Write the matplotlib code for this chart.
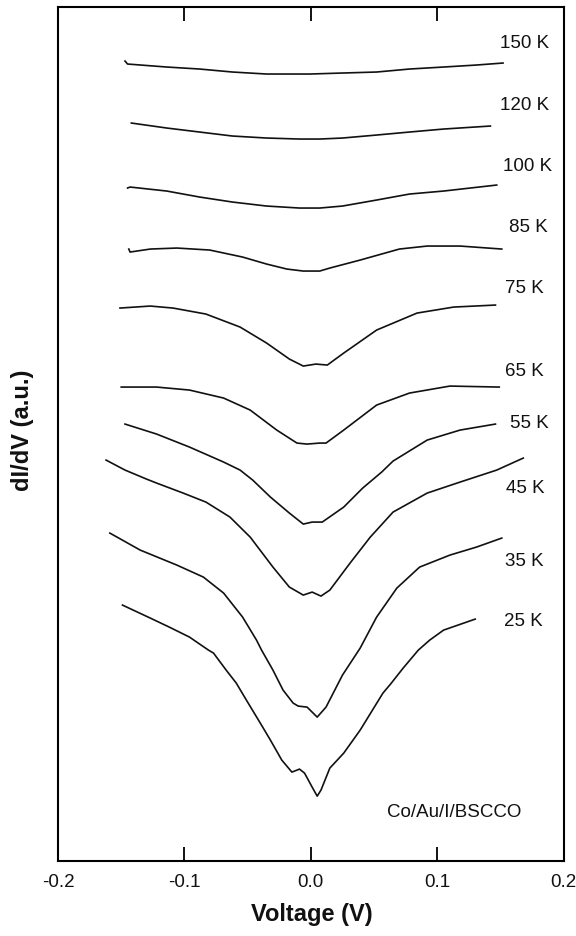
import matplotlib.pyplot as plt

plt.rcParams['font.family'] = ['Liberation Sans', 'DejaVu Sans']

# temperatures of the spectra (top to bottom)
temps = ['150 K', '120 K', '100 K', '85 K', '75 K', '65 K', '55 K', '45 K', '35 K', '25 K']

# bias voltage (V) and shifted dI/dV (a.u.)
v_150 = [-0.147, -0.145, -0.114, -0.088, -0.062, -0.035, -0.017, -0.001, 0.025, 0.052, 0.078, 0.105, 0.131, 0.152]
g_150 = [8.00, 7.97, 7.94, 7.92, 7.89, 7.87, 7.87, 7.87, 7.88, 7.89, 7.92, 7.94, 7.96, 7.98]

v_120 = [-0.142, -0.114, -0.088, -0.062, -0.035, -0.009, 0.007, 0.025, 0.052, 0.078, 0.105, 0.142]
g_120 = [7.38, 7.33, 7.29, 7.25, 7.23, 7.22, 7.22, 7.23, 7.26, 7.29, 7.32, 7.35]

v_100 = [-0.145, -0.143, -0.114, -0.088, -0.062, -0.035, -0.009, 0.007, 0.025, 0.052, 0.078, 0.105, 0.147]
g_100 = [6.73, 6.74, 6.70, 6.64, 6.59, 6.55, 6.53, 6.53, 6.55, 6.61, 6.67, 6.70, 6.76]

v_85 = [-0.144, -0.143, -0.127, -0.106, -0.080, -0.054, -0.035, -0.019, -0.006, 0.007, 0.015, 0.039, 0.070,
        0.092, 0.118, 0.151]
g_85 = [6.12, 6.09, 6.12, 6.13, 6.11, 6.04, 5.97, 5.92, 5.90, 5.90, 5.93, 6.01, 6.12, 6.15, 6.15, 6.12]

v_75 = [-0.151, -0.127, -0.109, -0.083, -0.056, -0.035, -0.017, -0.006, 0.004, 0.013, 0.026, 0.052, 0.084,
        0.113, 0.146]
g_75 = [5.53, 5.55, 5.53, 5.47, 5.34, 5.18, 5.02, 4.95, 4.97, 4.96, 5.08, 5.31, 5.48, 5.54, 5.56]

v_65 = [-0.150, -0.122, -0.096, -0.069, -0.048, -0.027, -0.011, -0.003, 0.007, 0.012, 0.026, 0.052, 0.078,
        0.110, 0.149]
g_65 = [4.74, 4.74, 4.71, 4.63, 4.51, 4.31, 4.18, 4.17, 4.18, 4.18, 4.31, 4.56, 4.68, 4.75, 4.74]

v_55 = [-0.147, -0.122, -0.096, -0.069, -0.056, -0.046, -0.032, -0.017, -0.006, 0.001, 0.009, 0.026, 0.041,
        0.056, 0.065, 0.092, 0.118, 0.146]
g_55 = [4.37, 4.27, 4.14, 3.99, 3.91, 3.81, 3.64, 3.48, 3.37, 3.39, 3.39, 3.54, 3.73, 3.89, 4.00,
        4.21, 4.31, 4.37]

v_45 = [-0.162, -0.147, -0.130, -0.122, -0.101, -0.083, -0.064, -0.048, -0.030, -0.017, -0.006, 0.001, 0.008,
        0.015, 0.031, 0.047, 0.065, 0.092, 0.118, 0.147, 0.168]
g_45 = [4.01, 3.91, 3.82, 3.78, 3.68, 3.59, 3.44, 3.24, 2.94, 2.74, 2.66, 2.69, 2.65, 2.71, 2.98, 3.24,
        3.49, 3.68, 3.79, 3.91, 4.03]

v_35 = [-0.159, -0.135, -0.106, -0.085, -0.069, -0.054, -0.043, -0.039, -0.030, -0.022, -0.014, -0.010,
        -0.003, 0.005, 0.012, 0.025, 0.039, 0.052, 0.068, 0.086, 0.110, 0.131, 0.151]
g_35 = [3.28, 3.11, 2.96, 2.84, 2.68, 2.44, 2.21, 2.11, 1.91, 1.71, 1.58, 1.55, 1.54, 1.44, 1.54, 1.86,
        2.13, 2.44, 2.73, 2.94, 3.06, 3.14, 3.23]

v_25 = [-0.149, -0.127, -0.112, -0.096, -0.081, -0.077, -0.067, -0.059, -0.051, -0.040, -0.032, -0.023,
        -0.015, -0.009, -0.005, 0.001, 0.005, 0.008, 0.015, 0.026, 0.039, 0.057, 0.063, 0.073, 0.085,
        0.094, 0.105, 0.130]
g_25 = [2.56, 2.43, 2.34, 2.24, 2.11, 2.08, 1.91, 1.78, 1.61, 1.38, 1.21, 1.01, 0.89, 0.92, 0.88, 0.74,
        0.65, 0.71, 0.93, 1.08, 1.31, 1.68, 1.77, 1.93, 2.11, 2.21, 2.31, 2.42]

curves = [(v_150, g_150), (v_120, g_120), (v_100, g_100), (v_85, g_85), (v_75, g_75),
          (v_65, g_65), (v_55, g_55), (v_45, g_45), (v_35, g_35), (v_25, g_25)]

# where the temperature labels sit (V, a.u.)
label_pos = [(0.169, 8.18), (0.169, 7.56), (0.171, 6.95), (0.172, 6.34), (0.169, 5.73),
             (0.169, 4.90), (0.173, 4.38), (0.170, 3.73), (0.169, 3.00), (0.168, 2.40)]

fig = plt.figure(figsize=(5.76, 9.36), dpi=100)
ax = fig.add_axes([0.1007, 0.080, 0.878, 0.9125])

for (v, g), name, (lx, ly) in zip(curves, temps, label_pos):
    ax.plot(v, g, color='#111111', lw=1.2, solid_joinstyle='round')
    ax.text(lx, ly, name, ha='center', va='center', fontsize=13.5, color='#111111')

ax.text(0.113, 0.49, 'Co/Au/I/BSCCO', ha='center', va='center', fontsize=13.5, color='#111111')

ax.set_xlim(-0.2, 0.2)
ax.set_ylim(0, 8.54)
ax.set_xticks([-0.2, -0.1, 0.0, 0.1, 0.2])
ax.set_xticklabels(['-0.2', '-0.1', '0.0', '0.1', '0.2'])
ax.set_yticks([])
ax.tick_params(axis='x', direction='in', top=True, length=10, width=1.3, pad=9,
               labelsize=13.5, labelcolor='#111111')
for s in ax.spines.values():
    s.set_linewidth(1.5)

fig.text(312 / 576, 1 - 915 / 936, 'Voltage (V)', ha='center', va='center',
         fontsize=17, fontweight='bold', color='#111111')
fig.text(22 / 576, 1 - 430 / 936, 'dI/dV (a.u.)', ha='center', va='center', rotation=90,
         fontsize=17, fontweight='bold', color='#111111')

fig.savefig('out.png', dpi=100)
